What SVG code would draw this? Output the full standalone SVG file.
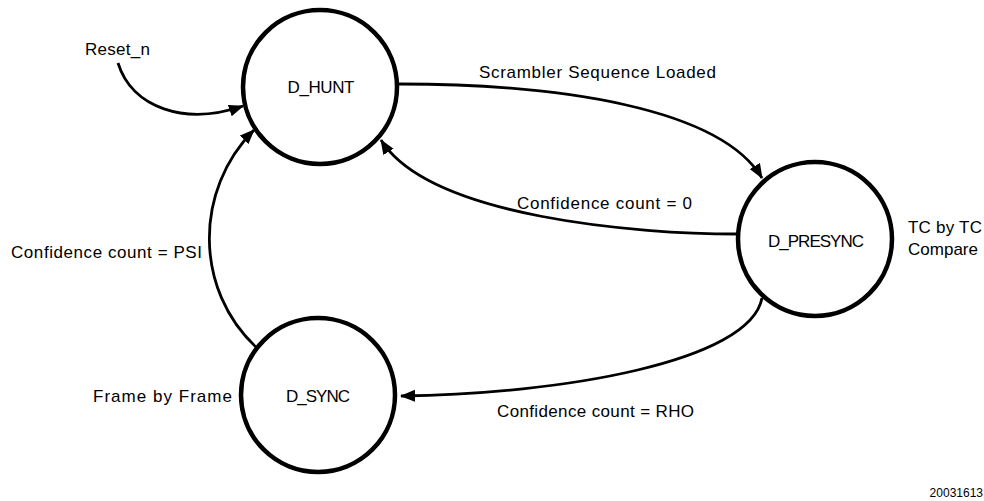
<svg xmlns="http://www.w3.org/2000/svg" width="984" height="501" viewBox="0 0 984 501">
<style>
.node{fill:#fff;stroke:#000;stroke-width:4.5}
.edge{fill:none;stroke:#000;stroke-width:2.8}
text{font-family:"Liberation Sans",Arial,sans-serif;font-size:17px;fill:#000}
.c{text-anchor:middle}
.small{font-size:12px}
</style>
<defs>
<marker id="ah" markerUnits="userSpaceOnUse" markerWidth="16" markerHeight="14" refX="14" refY="6" orient="auto">
<path d="M0,0 L15,6 L0,12 Z" fill="#000"/>
</marker>
</defs>
<rect width="984" height="501" fill="#fff"/>
<g id="connectors">
<path class="edge" marker-end="url(#ah)" d="M118,63 C132,108 185,126 243,106"/>
<path class="edge" marker-end="url(#ah)" d="M257,348 C194,290 194,190 254,130"/>
<path class="edge" marker-end="url(#ah)" d="M399,84 C560,84 720,108 762,178"/>
<path class="edge" marker-end="url(#ah)" d="M737,234 C640,234 430,218 381,140"/>
<path class="edge" marker-end="url(#ah)" d="M762,298 C750,362 560,394 401,396"/>
</g>
<g id="D_HUNT">
<circle class="node" cx="320" cy="87" r="77"/>
<text class="c" x="321" y="93" textLength="67">D_HUNT</text>
</g>
<g id="D_PRESYNC">
<circle class="node" cx="815" cy="239" r="77"/>
<text class="c" x="816" y="247" textLength="96">D_PRESYNC</text>
</g>
<g id="D_SYNC">
<circle class="node" cx="318" cy="395" r="77"/>
<text class="c" x="318" y="402" textLength="64">D_SYNC</text>
</g>
<g id="labels">
<text x="85" y="55" textLength="65">Reset_n</text>
<text x="479" y="78" textLength="237">Scrambler Sequence Loaded</text>
<text x="517" y="209" textLength="175">Confidence count = 0</text>
<text x="908" y="233" textLength="74">TC by TC</text>
<text x="908" y="255" textLength="70">Compare</text>
<text x="11" y="258" textLength="191">Confidence count = PSI</text>
<text x="93" y="402" textLength="139">Frame by Frame</text>
<text x="497" y="417" textLength="197">Confidence count = RHO</text>
<text class="small" x="983" y="497" text-anchor="end">20031613</text>
</g>
</svg>
